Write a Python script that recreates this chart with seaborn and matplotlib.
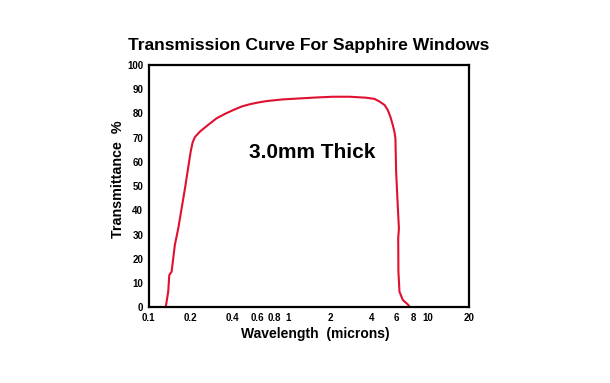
import matplotlib
matplotlib.use("Agg")
import matplotlib.pyplot as plt
import seaborn as sns
import pandas as pd
from matplotlib.ticker import FixedLocator, FixedFormatter, NullLocator

# wavelength in microns, transmittance in %
wavelength = [0.1324, 0.138, 0.1405, 0.146, 0.154, 0.163, 0.182, 0.200, 0.2065,
              0.2147, 0.233, 0.266, 0.307, 0.352, 0.404, 0.466, 0.532, 0.607,
              0.70, 0.916, 1.21, 1.606, 2.1, 2.77, 3.64, 4.18, 4.54, 4.93,
              5.2, 5.44, 5.65, 5.81, 5.9, 5.97, 6.08, 6.25, 6.18, 6.2, 6.31,
              6.67, 7.24, 7.57]
transmittance = [0, 6.4, 13.3, 14.7, 25.7, 32.6, 49, 64.2, 68,
                 70.3, 72.5, 75.2, 78, 79.8, 81.4, 82.9, 83.8, 84.5,
                 85.1, 85.8, 86.2, 86.6, 86.9, 86.9, 86.5, 86.0, 84.9, 83.5,
                 81.4, 78.5, 75.2, 72.3, 69.7, 56, 46.3, 32.6, 28.5, 14.7, 6.4,
                 3, 1.2, -0.3]

x_ticks = [0.1, 0.2, 0.4, 0.6, 0.8, 1, 2, 4, 6, 8, 10, 20]
x_labels = ["0.1", "0.2", "0.4", "0.6", "0.8", "1", "2", "4", "6", "8", "10", "20"]
y_ticks = list(range(0, 101, 10))

df = pd.DataFrame({"Wavelength": wavelength, "Transmittance": transmittance})

sns.set_style("white")
plt.rcParams["font.family"] = ["Liberation Sans", "DejaVu Sans"]
plt.rcParams["text.color"] = "black"
plt.rcParams["axes.labelcolor"] = "black"
plt.rcParams["xtick.color"] = "black"
plt.rcParams["ytick.color"] = "black"

fig = plt.figure(figsize=(6.10, 3.83), dpi=100)
ax = fig.add_axes([0.2438, 0.1977, 0.7693 - 0.2438, 0.8303 - 0.1977])

sns.lineplot(data=df, x="Wavelength", y="Transmittance", sort=False,
             color="#e0102f", linewidth=1.5, ax=ax)

ax.set_xscale("log")
ax.set_xlim(0.1, 20)
ax.set_ylim(0, 100)
ax.xaxis.set_major_locator(FixedLocator(x_ticks))
ax.xaxis.set_major_formatter(FixedFormatter(x_labels))
ax.xaxis.set_minor_locator(NullLocator())
ax.set_yticks(y_ticks)
ax.tick_params(direction="in", length=6, width=1, color="#444444",
               labelsize=7, pad=4)
for lab in ax.get_xticklabels() + ax.get_yticklabels():
    lab.set_fontweight("bold")

for s in ax.spines.values():
    s.set_linewidth(1.6)
    s.set_color("black")

ax.set_xlabel("Wavelength  (microns)", fontsize=10, fontweight="bold")
ax.xaxis.set_label_coords(0.52, -0.08)
ax.set_ylabel("Transmittance  %", fontsize=10.3, fontweight="bold")
ax.yaxis.set_label_coords(-0.074, 0.527)
fig.text(0.506, 0.882, "Transmission Curve For Sapphire Windows",
         ha="center", va="center", fontsize=12.6, fontweight="bold")
ax.text(1.48, 63.7, "3.0mm Thick", ha="center", va="center",
        fontsize=15, fontweight="bold")

fig.savefig("out.png", dpi=100)
